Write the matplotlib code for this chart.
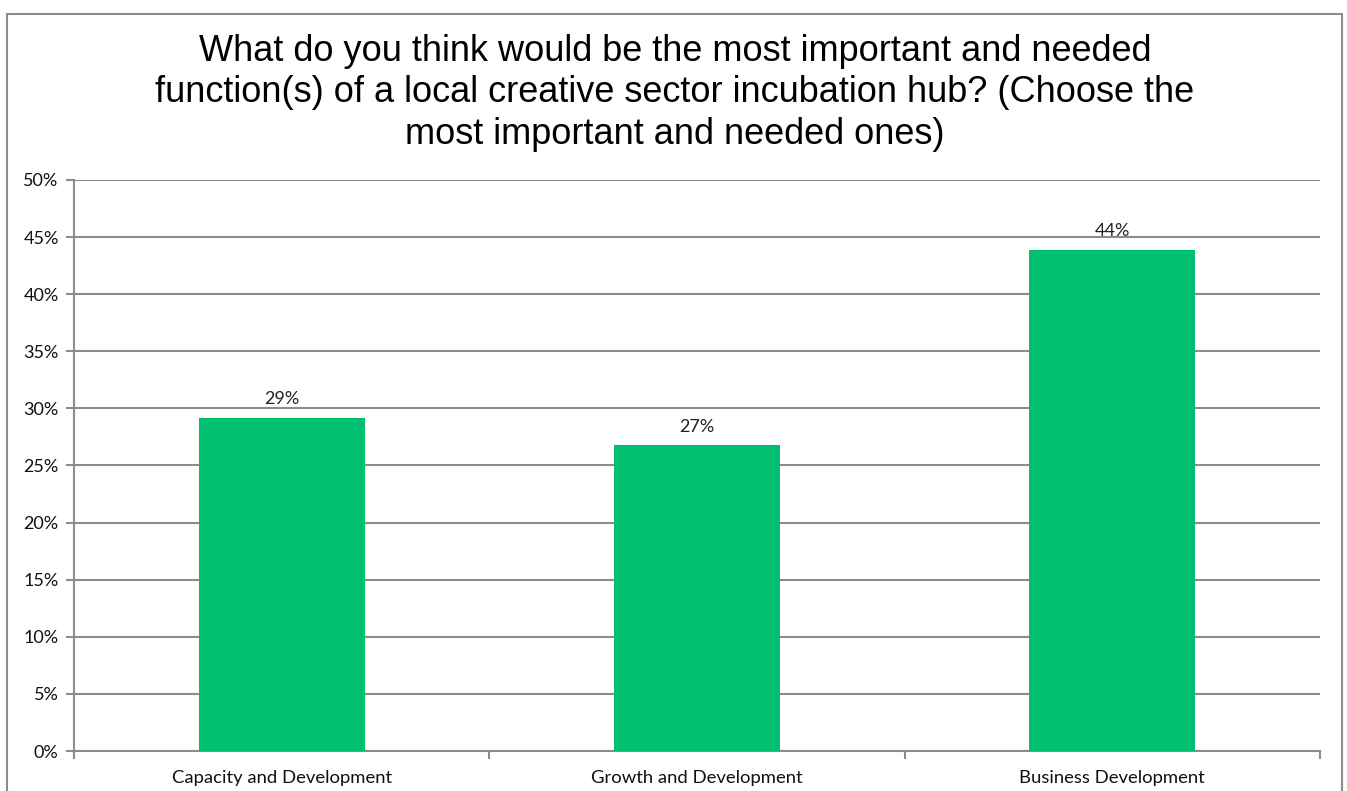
import matplotlib
matplotlib.use("Agg")
import matplotlib.pyplot as plt
from matplotlib.patches import Rectangle
from matplotlib.ticker import FuncFormatter, MultipleLocator, FixedLocator

categories = ["Capacity and Development", "Growth and Development", "Business Development"]
values = [0.292, 0.268, 0.439]
labels = ["29%", "27%", "44%"]
title = ("What do you think would be the most important and needed\n"
         "function(s) of a local creative sector incubation hub? (Choose the\n"
         "most important and needed ones)")

W, H = 1347, 791
fig = plt.figure(figsize=(W / 100, H / 100), dpi=100)
ax = fig.add_axes([74 / W, 1 - 751 / H, (1320 - 74) / W, (751 - 180) / H])

gray = "#8c8c8c"
xs = range(len(categories))
ax.bar(xs, values, width=0.4, color="#00BF6F", zorder=3)
for x, v, l in zip(xs, values, labels):
    ax.text(x, v + 0.009, l, ha="center", va="bottom", fontsize=13,
            family="Lato", color="#222222")

ax.set_xlim(-0.5, len(categories) - 0.5)
ax.set_ylim(0, 0.5)
ax.yaxis.set_major_locator(MultipleLocator(0.05))
ax.yaxis.set_major_formatter(FuncFormatter(lambda v, p: f"{round(v*100)}%"))
ax.set_xticks(list(xs))
ax.set_xticklabels(categories, family="Lato", fontsize=13.3, color="#111111")
ax.xaxis.set_minor_locator(FixedLocator([-0.5, 0.5, 1.5, 2.5]))
ax.tick_params(axis="x", which="major", length=0, pad=14)
ax.tick_params(axis="x", which="minor", length=6, color=gray, width=1.5, direction="out")
ax.tick_params(axis="y", length=6, color=gray, width=1.5, direction="out", pad=5)
for lab in ax.get_yticklabels():
    lab.set_family("Lato")
    lab.set_fontsize(13)
    lab.set_color("#111111")
ax.grid(axis="y", color=gray, linewidth=1.5, zorder=0)
for s in ["top", "right"]:
    ax.spines[s].set_visible(False)
for s in ["left", "bottom"]:
    ax.spines[s].set_color(gray)
    ax.spines[s].set_linewidth(1.5)

fig.text(675 / W, 1 - 93 / H, title, ha="center", va="center", fontsize=26,
         family="Liberation Sans", linespacing=1.25, color="#000000")

fig.add_artist(Rectangle((7 / W, -0.05), (1342 - 7) / W, 1.05 - 14 / H,
                         transform=fig.transFigure, fill=False, edgecolor=gray,
                         linewidth=1.5, clip_on=False))

fig.savefig("out.png", dpi=100)
